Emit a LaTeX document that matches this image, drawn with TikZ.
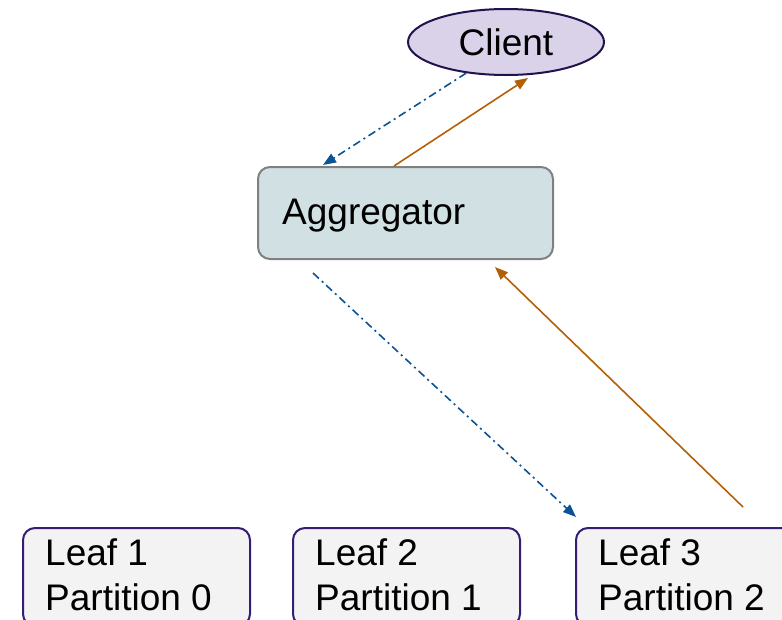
\documentclass[tikz,border=0pt]{standalone}
\usepackage{fontspec}
\setmainfont{Liberation Sans}
\usetikzlibrary{shapes.geometric,arrows.meta}
\definecolor{reqblue}{HTML}{0B5394}
\definecolor{resorange}{HTML}{B45F06}
\definecolor{clientfill}{HTML}{D9D2E9}
\definecolor{clientline}{HTML}{20124D}
\definecolor{aggfill}{HTML}{D0E0E3}
\definecolor{aggline}{HTML}{808080}
\definecolor{leaffill}{HTML}{F3F3F3}
\definecolor{leafline}{HTML}{351C75}
\tikzset{
  clientnode/.style={ellipse, draw=clientline, fill=clientfill, line width=2pt,
    minimum width=196pt, minimum height=66pt, inner sep=0pt,
    font=\fontsize{37}{44}\selectfont},
  aggnode/.style={rectangle, rounded corners=12pt, draw=aggline, fill=aggfill,
    line width=2pt, minimum width=295pt, minimum height=92pt, inner sep=0pt},
  leafnode/.style={rectangle, rounded corners=12pt, draw=leafline, fill=leaffill,
    line width=2pt, minimum width=227pt, minimum height=98pt, inner sep=0pt},
  boxtext/.style={inner sep=0pt, anchor=west, align=left,
    font=\fontsize{37}{44.5}\selectfont},
  request/.style={draw=reqblue, line width=1.6pt,
    dash pattern=on 8pt off 4pt on 2pt off 4pt,
    -{Triangle[length=13pt,width=10pt,fill=reqblue]}},
  response/.style={draw=resorange, line width=1.6pt,
    -{Triangle[length=13pt,width=10pt,fill=resorange]}},
}
\begin{document}
\begin{tikzpicture}[x=1pt,y=-1pt]
  \useasboundingbox (0,0) rectangle (782,619);
  \clip (0,0) rectangle (782,619);

  % client and aggregator
  \node[clientnode] (client) at (506,42) {Client};
  \node[aggnode] (agg) at (405.5,213) {};
  \node[boxtext] (aggtext) at ([xshift=25pt,yshift=-3pt]agg.west) {Aggregator};

  % leaf servers
  \node[leafnode, anchor=north west] (leaf1) at (22,527) {};
  \node[leafnode, anchor=north west] (leaf2) at (292,527) {};
  \node[leafnode, anchor=north west] (leaf3) at (575,527) {};
  \node[boxtext, anchor=north west] (leaf1text) at ([xshift=23pt,yshift=-12pt]leaf1.north west) {Leaf 1\\Partition 0};
  \node[boxtext, anchor=north west] (leaf2text) at ([xshift=23pt,yshift=-12pt]leaf2.north west) {Leaf 2\\Partition 1};
  \node[boxtext, anchor=north west] (leaf3text) at ([xshift=23pt,yshift=-12pt]leaf3.north west) {Leaf 3\\Partition 2};

  % query fan-out and responses
  \draw[request] (client.218) -- ([xshift=66pt,yshift=1pt]agg.north west);
  \draw[response] ([xshift=137pt]agg.north west) -- ([xshift=22pt,yshift=-2pt]client.south);
  \draw[request] ([xshift=56pt,yshift=-13pt]agg.south west) -- ([xshift=1pt,yshift=10pt]leaf3.north west);
  \draw[response] ([xshift=168pt,yshift=20pt]leaf3.north west) -- ([xshift=238pt,yshift=-7pt]agg.south west);
\end{tikzpicture}
\end{document}
